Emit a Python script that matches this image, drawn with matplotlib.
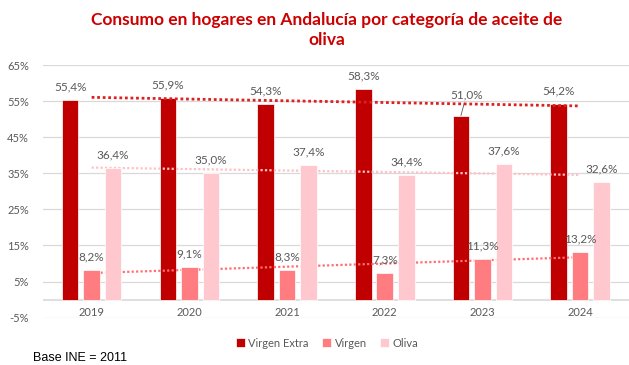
import numpy as np
import matplotlib
matplotlib.use("Agg")
import matplotlib.pyplot as plt

years = ["2019", "2020", "2021", "2022", "2023", "2024"]
virgen_extra = [55.4, 55.9, 54.3, 58.3, 51.0, 54.2]
virgen = [8.2, 9.1, 8.3, 7.3, 11.3, 13.2]
oliva = [36.4, 35.0, 37.4, 34.4, 37.6, 32.6]
series_names = ["Virgen Extra", "Virgen", "Oliva"]
yticks = [-5, 5, 15, 25, 35, 45, 55, 65]

bar_colors = ["#C00000", "#FF7C80", "#FFC7CE"]
trend_colors = ["#E02020", "#FF6E74", "#FFC0C6"]
trend_widths = [2.0, 1.6, 1.6]
grey = "#595959"

plt.rcParams["font.family"] = ["Lato", "DejaVu Sans"]

fig = plt.figure(figsize=(6.29, 3.65), dpi=100)
ax = fig.add_axes([0.068, 0.1296, 0.932, 0.6923])

x = np.arange(len(years))
width = 0.17
step = 0.22
all_series = [virgen_extra, virgen, oliva]
bar_z = [2, 4, 4]

for i, (vals, name) in enumerate(zip(all_series, series_names)):
    pos = x + (i - 1) * step
    ax.bar(pos, vals, width, color=bar_colors[i], label=name, zorder=bar_z[i],
           edgecolor="white", linewidth=0.5)
    for j, (px, v) in enumerate(zip(pos, vals)):
        txt = f"{v:.1f}%".replace(".", ",")
        if i == 0 and years[j] == "2023":
            ax.annotate(txt, (px, v), xytext=(4, 15), textcoords="offset points",
                        ha="center", va="center", fontsize=8.5, color=grey,
                        arrowprops=dict(arrowstyle="-", color=grey, lw=0.6,
                                        shrinkA=0, shrinkB=0))
        else:
            ax.annotate(txt, (px, v), xytext=(0, 9.5), textcoords="offset points",
                        ha="center", va="center", fontsize=8.5, color=grey, zorder=5)

    # linear trend across the category centres
    coef = np.polyfit(x, vals, 1)
    ax.plot(x, np.polyval(coef, x), linestyle=(0, (1, 1)), color=trend_colors[i],
            lw=trend_widths[i], zorder=3)

ax.set_xlim(-0.5, len(years) - 0.5)
ax.set_ylim(-5, 65)
ax.set_yticks(yticks)
ax.set_yticklabels([f"{t}%" for t in yticks])
ax.yaxis.grid(True, color="#D9D9D9", lw=0.9, zorder=0)
ax.axhline(0, color="#D9D9D9", lw=1.2, zorder=1)
ax.set_axisbelow(True)
ax.tick_params(axis="y", length=0, colors=grey, labelsize=8, pad=10)
ax.set_xticks([])
for s in ax.spines.values():
    s.set_visible(False)

for xi, yr in zip(x, years):
    ax.text(xi, -3.6, yr, ha="center", va="center", fontsize=8, color=grey)

fig.text(0.52, 0.918, "Consumo en hogares en Andalucía por categoría de aceite de\noliva",
         ha="center", va="center", fontsize=12.5, fontweight="bold", color="#CC0000",
         linespacing=1.35)

handles, labels = ax.get_legend_handles_labels()
fig.legend(handles, labels, loc="center", bbox_to_anchor=(0.52, 0.06), ncol=3,
           frameon=False, fontsize=8, labelcolor=grey, handlelength=0.8,
           handleheight=0.8, handletextpad=0.3, columnspacing=1.2)

fig.text(0.052, 0.003, "Base INE = 2011", ha="left", va="bottom", fontsize=9,
         family="Liberation Sans", color="black")

fig.savefig("out.png", dpi=100)
